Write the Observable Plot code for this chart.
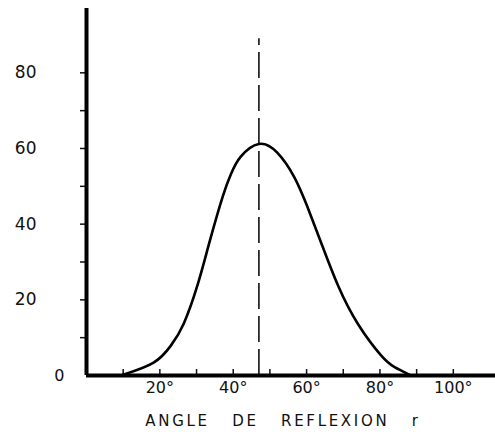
<!DOCTYPE html>
<html>
<head>
<meta charset="utf-8">
<script src="https://cdn.jsdelivr.net/npm/d3@7"></script>
<script src="https://cdn.jsdelivr.net/npm/@observablehq/plot@0.6"></script>
<style>
  html, body { margin: 0; padding: 0; background: #fff; }
</style>
</head>
<body>
<div id="chart"></div>
<script>
// Reflection angle (degrees) and intensity
const angles    = [10, 18.3, 23, 26.5, 30.3, 33.6, 37.2, 39.5, 42, 47, 52, 56.6, 60.3, 64.2, 68.6, 74, 80.3, 84, 88];
const intensity = [0.2, 3.4, 7.9, 13.7, 24, 35.5, 47.5, 53.5, 57.8, 61.2, 58.9, 52.5, 44.4, 34.5, 23.7, 13.6, 5.3, 2.2, 0.2];
const peakAngle = [47];
const xMinorTicks = [10, 20, 30, 40, 50, 60, 70, 80, 90, 100];
const xLabelTicks = [20, 40, 60, 80, 100];
const yMinorTicks = [10, 20, 30, 40, 50, 60, 70, 80];
const yLabelTicks = [20, 40, 60, 80];
const xTitle = ["ANGLE\u00a0\u00a0\u00a0DE\u00a0\u00a0\u00a0REFLEXION\u00a0\u00a0\u00a0r"];

const data = angles.map((a, i) => ({angle: a, value: intensity[i]}));
const font = "DejaVu Sans, sans-serif";

const chart = Plot.plot({
  width: 495,
  height: 447,
  marginLeft: 86,
  marginRight: 0,
  marginTop: 8,
  marginBottom: 72,
  style: {fontFamily: font, color: "#111", background: "#fff"},
  x: {domain: [0, 111.5], label: null},
  y: {domain: [0, 97], label: null},
  marks: [
    // minor ticks on y axis (pointing left)
    Plot.axisY({ticks: yMinorTicks, tickSize: 6, text: null, label: null, strokeWidth: 1.5}),
    Plot.axisY({ticks: yLabelTicks, tickSize: 0, tickPadding: 50, fontSize: 17, textAnchor: "end", label: null}),
    Plot.axisY({ticks: [0], tickSize: 0, tickPadding: 22, fontSize: 16, textAnchor: "end", label: null}),
    // x axis ticks (pointing up) and labels
    Plot.axisX({ticks: xMinorTicks, tickSize: -6, text: null, label: null, strokeWidth: 1.5}),
    Plot.axisX({ticks: xLabelTicks, tickSize: 0, tickPadding: 6, fontSize: 16, label: null, tickFormat: d => d + "°"}),
    // dashed line at the peak
    Plot.ruleX(peakAngle, {y1: 0, y2: 89, stroke: "#111", strokeWidth: 1.6, strokeDasharray: "26,7"}),
    // axes lines
    Plot.ruleX([0], {y1: 0, y2: 97, stroke: "#000", strokeWidth: 4}),
    Plot.ruleY([0], {x1: 0, x2: 111.5, stroke: "#000", strokeWidth: 4}),
    // curve
    Plot.line(data, {x: "angle", y: "value", curve: "natural", stroke: "#000", strokeWidth: 2.6}),
    // axis title
    Plot.text(xTitle, {frameAnchor: "bottom", dx: -8, dy: 50, fontSize: 15, fill: "#111", fontFamily: font})
  ]
});
chart.querySelectorAll("text").forEach(t => {
  if (t.textContent.startsWith("ANGLE")) t.setAttribute("letter-spacing", "2.7");
});
document.getElementById("chart").appendChild(chart);
</script>
</body>
</html>
